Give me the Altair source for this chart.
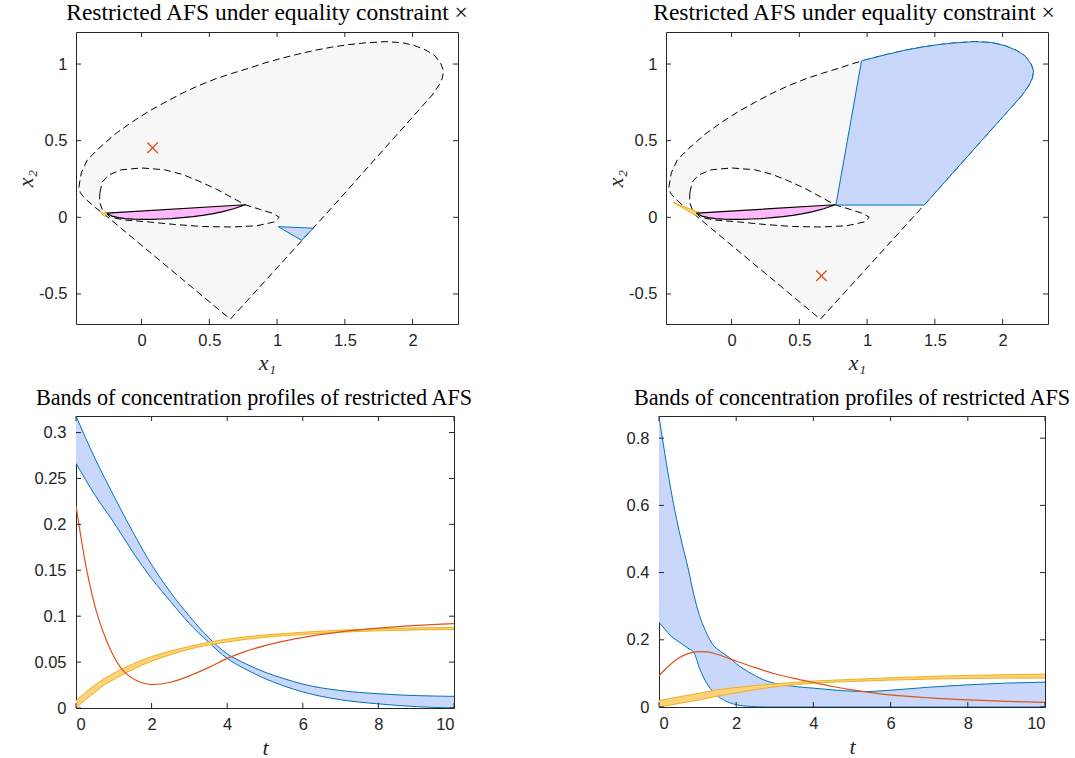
import altair as alt
import pandas as pd

# ---------------- text ----------------
TITLE_TOP = "Restricted AFS under equality constraint ×"
TITLE_BOTTOM = "Bands of concentration profiles of restricted AFS"
X1_TITLE = "x₁"
X2_TITLE = "x₂"
T_TITLE = "t"

# ---------------- AFS geometry (x1, x2) ----------------
OUTER_X1 = [-0.463, -0.445, -0.40, -0.32, -0.20, -0.074, 0.05, 0.172, 0.30, 0.418, 0.55, 0.664,
            0.80, 0.91, 1.03, 1.156, 1.28, 1.402, 1.52, 1.648, 1.796, 1.92, 2.017, 2.10, 2.165,
            2.21, 2.228, 2.22, 2.20, 2.17, 2.14, 1.421, 0.655, -0.255, -0.35, -0.42, -0.452]
OUTER_X2 = [0.196, 0.29, 0.375, 0.446, 0.54, 0.62, 0.69, 0.75, 0.81, 0.858, 0.905, 0.938,
            0.975, 1.007, 1.037, 1.065, 1.09, 1.11, 1.126, 1.138, 1.146, 1.14, 1.12, 1.09, 1.054,
            1.0, 0.956, 0.91, 0.87, 0.83, 0.793, 0.08, -0.665, 0.005, 0.07, 0.125, 0.16]

INNER_X1 = [-0.308, -0.29, -0.246, -0.15, 0.0, 0.17, 0.30, 0.418, 0.55, 0.664, 0.762, 0.88,
            0.97, 1.016, 0.98, 0.85, 0.664, 0.45, 0.25, 0.05, -0.12, -0.23, -0.29, -0.31]
INNER_X2 = [0.16, 0.23, 0.275, 0.31, 0.322, 0.31, 0.28, 0.238, 0.185, 0.13, 0.082, 0.05,
            0.025, 0.0, -0.03, -0.055, -0.063, -0.06, -0.047, -0.03, -0.018, 0.0, 0.05, 0.10]

PINK_X1 = [-0.258, 0.765, 0.68, 0.60, 0.52, 0.45, 0.38, 0.30, 0.22, 0.15, 0.07, 0.0, -0.06,
           -0.12, -0.17, -0.22]
PINK_X2 = [0.027, 0.082, 0.056, 0.037, 0.023, 0.013, 0.005, -0.002, -0.008, -0.011, -0.013,
           -0.014, -0.012, -0.008, -0.002, 0.008]

TRI_BLUE_X1 = [1.008, 1.267, 1.18]
TRI_BLUE_X2 = [-0.061, -0.071, -0.15]
TRI_ORANGE_X1 = [-0.30, -0.258, -0.27]
TRI_ORANGE_X2 = [0.028, 0.028, 0.004]

BLUE_R_X1 = [0.77, 0.959, 1.03, 1.156, 1.28, 1.402, 1.52, 1.648, 1.796, 1.92, 2.017, 2.10,
             2.165, 2.21, 2.228, 2.22, 2.20, 2.17, 2.14, 1.421]
BLUE_R_X2 = [0.08, 1.021, 1.037, 1.065, 1.09, 1.11, 1.126, 1.138, 1.146, 1.14, 1.12, 1.09,
             1.054, 1.0, 0.956, 0.91, 0.87, 0.83, 0.793, 0.08]
ORANGE_R_X1 = [-0.43, -0.25, -0.256]
ORANGE_R_X2 = [0.097, 0.035, 0.008]

MARK_L_X1 = [0.081]
MARK_L_X2 = [0.454]
MARK_R_X1 = [0.663]
MARK_R_X2 = [-0.381]

AFS_XTICKS = [0, 0.5, 1, 1.5, 2]
AFS_YTICKS = [-0.5, 0, 0.5, 1]

# ---------------- concentration bands (left) ----------------
T_BL_BLUE = [0, 0.5, 1, 1.5, 2, 2.5, 3, 3.5, 4, 4.5, 5, 5.5, 6, 7, 8, 9, 10]
BL_BLUE_HI = [0.318, 0.272, 0.231, 0.192, 0.156, 0.126, 0.100, 0.077, 0.059, 0.048, 0.039,
              0.032, 0.026, 0.019, 0.0155, 0.0135, 0.0127]
BL_BLUE_LO = [0.2665, 0.232, 0.202, 0.170, 0.141, 0.116, 0.092, 0.072, 0.054, 0.042, 0.032,
              0.024, 0.0175, 0.009, 0.0045, 0.0015, 0.0]

T_BL_RED = [0, 0.1, 0.2, 0.3, 0.4, 0.5, 0.6, 0.8, 1.0, 1.2, 1.4, 1.6, 1.8, 2.0, 2.5, 3, 3.5,
            4, 4.5, 5, 6, 7, 8, 9, 10]
BL_RED = [0.220, 0.194, 0.169, 0.147, 0.128, 0.111, 0.097, 0.074, 0.056, 0.043, 0.035, 0.030,
          0.027, 0.0255, 0.028, 0.035, 0.044, 0.054, 0.062, 0.068, 0.077, 0.083, 0.087, 0.090,
          0.092]

T_BL_OR = [0, 0.25, 0.5, 0.75, 1, 1.5, 2, 2.5, 3, 3.5, 4, 5, 6, 7, 8, 9, 10]
BL_OR_HI = [0.008, 0.017, 0.025, 0.032, 0.038, 0.048, 0.056, 0.062, 0.067, 0.0715, 0.075,
            0.0795, 0.0825, 0.0848, 0.0863, 0.0872, 0.0878]
BL_OR_LO = [0.0, 0.009, 0.017, 0.025, 0.031, 0.042, 0.051, 0.058, 0.064, 0.0685, 0.072,
            0.077, 0.080, 0.0825, 0.084, 0.085, 0.0855]

BL_YTICKS = [0, 0.05, 0.1, 0.15, 0.2, 0.25, 0.3]

# ---------------- concentration bands (right) ----------------
T_BR_BLUE = [0, 0.15, 0.3, 0.45, 0.6, 0.75, 0.9, 1.05, 1.2, 1.38, 1.6, 1.8, 2, 2.4, 2.8, 3.2,
             3.6, 4, 4.5, 5, 5.4, 6, 7, 8, 9, 10]
BR_BLUE_HI = [0.864, 0.755, 0.652, 0.562, 0.485, 0.415, 0.335, 0.272, 0.228, 0.188, 0.165,
              0.149, 0.129, 0.099, 0.077, 0.066, 0.060, 0.056, 0.051, 0.047, 0.046, 0.050,
              0.059, 0.066, 0.071, 0.074]
BR_BLUE_LO = [0.252, 0.232, 0.212, 0.199, 0.187, 0.175, 0.163, 0.115, 0.078, 0.048, 0.026,
              0.014, 0.007, 0.0015, 0.0, 0.0, 0.0, 0.0, 0.0, 0.0, 0.0, 0.0, 0.0, 0.0, 0.0, 0.0]

T_BR_RED = [0, 0.25, 0.5, 0.75, 1.0, 1.25, 1.5, 2, 2.5, 3, 3.5, 4, 4.5, 5, 5.5, 6, 7, 8, 9, 10]
BR_RED = [0.093, 0.122, 0.145, 0.159, 0.165, 0.164, 0.157, 0.137, 0.117, 0.099, 0.085, 0.073,
          0.061, 0.051, 0.043, 0.036, 0.027, 0.021, 0.017, 0.014]

T_BR_OR = [0, 0.5, 1, 1.5, 2, 2.5, 3, 3.5, 4, 5, 6, 7, 8, 9, 10]
BR_OR_HI = [0.019, 0.030, 0.040, 0.051, 0.058, 0.064, 0.069, 0.073, 0.077, 0.082, 0.087,
            0.091, 0.094, 0.096, 0.098]
BR_OR_LO = [0.0, 0.010, 0.020, 0.032, 0.042, 0.052, 0.060, 0.066, 0.071, 0.076, 0.080,
            0.083, 0.085, 0.086, 0.086]

BR_YTICKS = [0, 0.2, 0.4, 0.6, 0.8]
T_TICKS = [0, 2, 4, 6, 8, 10]

# ---------------- styles ----------------
AXC = "#262626"
GRAY_FILL = "#f7f7f7"
PINK = "#ffb8fb"
BLUE = "#0072bd"
BLUE_FILL = "#c9d7fa"
ORANGE = "#edb120"
ORANGE_FILL = "#fdd27a"
RED = "#d95319"
TICK_LEN = 5
LBL = "'' + datum.value"
XSHAPE = "M-1,-1L1,1M-1,1L1,-1"


def make_axes(xdom, ydom, xticks, yticks, xtitle, ytitle, x_title_y, y_title_x,
              ylabpad, min_extent=None):
    xs = alt.Scale(domain=xdom, nice=False, zero=False)
    ys = alt.Scale(domain=ydom, nice=False, zero=False)
    xax = alt.Axis(values=xticks, title=xtitle, labelExpr=LBL, labelPadding=8,
                   titleY=x_title_y, titleBaseline="alphabetic")
    yargs = dict(values=yticks, labelExpr=LBL, labelPadding=ylabpad)
    if ytitle:
        yargs.update(title=ytitle, titleX=y_title_x, titleBaseline="alphabetic")
    else:
        yargs.update(title=None)
    if min_extent is not None:
        yargs.update(minExtent=min_extent, maxExtent=min_extent)
    yax = alt.Axis(**yargs)

    def X(f):
        return alt.X(f, type="quantitative", scale=xs, axis=xax)

    def Y(f):
        return alt.Y(f, type="quantitative", scale=ys, axis=yax)
    return X, Y


def tick_layers(X, Y, xticks, yticks, W, H):
    xt = pd.DataFrame({"v": xticks})
    yt = pd.DataFrame({"v": yticks})
    rk = dict(color=AXC, strokeWidth=1)
    return [
        alt.Chart(xt).mark_rule(**rk).encode(x=X("v"), y=alt.value(H), y2=alt.value(H - TICK_LEN)),
        alt.Chart(xt).mark_rule(**rk).encode(x=X("v"), y=alt.value(0), y2=alt.value(TICK_LEN)),
        alt.Chart(yt).mark_rule(**rk).encode(y=Y("v"), x=alt.value(0), x2=alt.value(TICK_LEN)),
        alt.Chart(yt).mark_rule(**rk).encode(y=Y("v"), x=alt.value(W), x2=alt.value(W - TICK_LEN)),
    ]


def polygon(X, Y, xs, ys, fill, stroke, width=1.0, dash=None):
    df = pd.DataFrame({"a": xs, "b": ys, "i": list(range(len(xs)))})
    props = dict(fill=fill, stroke=stroke, strokeWidth=width, interpolate="linear-closed",
                 clip=True, strokeJoin="round")
    if dash is not None:
        props["strokeDash"] = dash
    return alt.Chart(df).mark_line(**props).encode(x=X("a"), y=Y("b"), order=alt.Order("i:Q"))


def marker(X, Y, xs, ys):
    df = pd.DataFrame({"a": xs, "b": ys})
    return alt.Chart(df).mark_point(shape=XSHAPE, size=110, filled=False, stroke=RED,
                                    strokeWidth=1.3, opacity=1).encode(x=X("a"), y=Y("b"))


def title(text, size, dx=0):
    return alt.TitleParams(text=text, font="Liberation Serif", fontSize=size, fontWeight="normal",
                           color="black", offset=9.5, baseline="alphabetic", frame="group",
                           anchor="middle", dx=dx, dy=21.5)


AFS_XDOM = [-0.484, 2.335]
AFS_YDOM = [-0.696, 1.209]


def afs_panel(colored, mark_x, mark_y, W, H, dx):
    X, Y = make_axes(AFS_XDOM, AFS_YDOM, AFS_XTICKS, AFS_YTICKS, X1_TITLE, X2_TITLE,
                     45, -44, 9)
    layers = [
        polygon(X, Y, OUTER_X1, OUTER_X2, GRAY_FILL, "black", 1.0, [7, 4]),
        polygon(X, Y, INNER_X1, INNER_X2, "white", "black", 1.0, [7, 4]),
    ]
    for xs, ys, fill, stroke, w in colored:
        layers.append(polygon(X, Y, xs, ys, fill, stroke, w))
    layers.append(marker(X, Y, mark_x, mark_y))
    layers += tick_layers(X, Y, AFS_XTICKS, AFS_YTICKS, W, H)
    return alt.layer(*layers).properties(width=W, height=H, title=title(TITLE_TOP, 23.5, dx))


def band(X, Y, t, lo, hi, fill, stroke):
    df = pd.DataFrame({"t": t, "lo": lo, "hi": hi})
    base = alt.Chart(df)
    return [
        base.mark_area(color=fill, opacity=1, interpolate="monotone", clip=True).encode(
            x=X("t"), y=Y("lo"), y2=alt.Y2("hi")),
        base.mark_line(color=stroke, strokeWidth=1, interpolate="monotone", clip=True).encode(
            x=X("t"), y=Y("lo")),
        base.mark_line(color=stroke, strokeWidth=1, interpolate="monotone", clip=True).encode(
            x=X("t"), y=Y("hi")),
    ]


def line(X, Y, t, v, color):
    df = pd.DataFrame({"t": t, "v": v})
    return alt.Chart(df).mark_line(color=color, strokeWidth=1.2, interpolate="monotone",
                                   clip=True).encode(x=X("t"), y=Y("v"))


def conc_panel(ydom, yticks, blue, red, orange, W, H, min_extent, dx):
    X, Y = make_axes([0, 10], ydom, T_TICKS, yticks, T_TITLE, None, 46, None, 10, min_extent)
    layers = []
    layers += band(X, Y, *blue, BLUE_FILL, BLUE)
    layers += band(X, Y, *orange, ORANGE_FILL, ORANGE)
    layers.append(line(X, Y, *red, RED))
    layers += tick_layers(X, Y, T_TICKS, yticks, W, H)
    return alt.layer(*layers).properties(width=W, height=H, title=title(TITLE_BOTTOM, 22.2, dx))


tl = afs_panel([
    (PINK_X1, PINK_X2, PINK, "black", 1.2),
    (TRI_BLUE_X1, TRI_BLUE_X2, BLUE_FILL, BLUE, 1.0),
    (TRI_ORANGE_X1, TRI_ORANGE_X2, ORANGE_FILL, ORANGE, 1.0),
], MARK_L_X1, MARK_L_X2, 382, 292, 0)

tr = afs_panel([
    (BLUE_R_X1, BLUE_R_X2, BLUE_FILL, BLUE, 1.0),
    (ORANGE_R_X1, ORANGE_R_X2, ORANGE_FILL, ORANGE, 1.0),
    (PINK_X1, PINK_X2, PINK, "black", 1.2),
], MARK_R_X1, MARK_R_X2, 382, 292, -3)

bl = conc_panel([0, 0.318], BL_YTICKS,
                (T_BL_BLUE, BL_BLUE_LO, BL_BLUE_HI),
                (T_BL_RED, BL_RED),
                (T_BL_OR, BL_OR_LO, BL_OR_HI), 378, 292, 77, -11)

br = conc_panel([0, 0.866], BR_YTICKS,
                (T_BR_BLUE, BR_BLUE_LO, BR_BLUE_HI),
                (T_BR_RED, BR_RED),
                (T_BR_OR, BR_OR_LO, BR_OR_HI), 386, 291, None, 0)

row1 = alt.hconcat(tl, tr, spacing=134)
row2 = alt.hconcat(bl, br, spacing=151)

chart = alt.vconcat(row1, row2, spacing=12).properties(
    padding={"left": -2, "top": 0, "right": 0, "bottom": 0},
    background="white",
).configure_view(stroke=AXC, strokeWidth=1).configure_axis(
    grid=False, ticks=False, domain=False, tickSize=0,
    labelFont="Liberation Sans", labelFontSize=16.5, labelColor=AXC,
    titleFont="Liberation Serif", titleFontStyle="italic", titleFontWeight="normal",
    titleFontSize=22, titleColor=AXC,
).configure_concat(spacing=10)

chart.save("out.html", embed_options={"renderer": "svg", "actions": False})
